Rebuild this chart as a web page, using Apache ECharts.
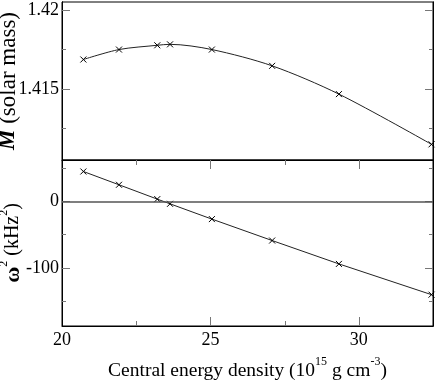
<!DOCTYPE html>
<html>
<head>
<meta charset="utf-8">
<script src="https://cdn.jsdelivr.net/npm/echarts@6/dist/echarts.min.js"></script>
<style>
  html, body { margin: 0; padding: 0; background: #fff; }
  #main { width: 436px; height: 382px; }
</style>
</head>
<body>
<div id="main"></div>
<script>
// central energy density (10^15 g cm^-3)
var density = [20.72, 21.92, 23.21, 23.64, 25.05, 27.08, 29.33, 32.45];
// gravitational mass (solar mass)
var mass = [1.41686, 1.41749, 1.41776, 1.41782, 1.41749, 1.41646, 1.41467, 1.41149];
// squared frequency of the radial mode (kHz^2)
var omega2 = [45.2, 25.2, 3.6, -3.5, -26.5, -58.8, -94.0, -140.3];

var xMajor = [25, 30], xMinor = [22.5, 27.5];
var massMajor = [1.415, 1.42], massMinor = [1.4125, 1.4175];
var omMajor = [-100, 0], omMinor = [-150, -50, 50];

var font = 'Liberation Serif';
var tickColor = '#777';

function pairs(xs, ys) {
  return xs.map(function (x, i) { return [x, ys[i]]; });
}

// y axis carrying a set of inward ticks, optionally labels
function yax(grid, pos, min, max, ticks, len, labels) {
  return {
    type: 'value', gridIndex: grid, position: pos, min: min, max: max,
    axisLine: { show: true, onZero: false, lineStyle: { color: '#000', width: 1 } },
    splitLine: { show: false },
    nameMoveOverlap: false,
    axisTick: {
      show: true, inside: true, length: len, customValues: ticks,
      lineStyle: { color: tickColor, width: 1 }
    },
    axisLabel: {
      show: !!labels, customValues: labels || [], margin: 3,
      fontFamily: font, fontSize: 18, color: '#000'
    }
  };
}

var supStyle = { fontFamily: font, fontSize: 12, verticalAlign: 'top', lineHeight: 10 };

var chart = echarts.init(document.getElementById('main'));

var xAxes = [
  { type: 'value', gridIndex: 0, min: 20, max: 32.5, position: 'bottom',
    axisLine: { onZero: false, lineStyle: { color: '#000' } },
    axisTick: { show: false }, axisLabel: { show: false }, splitLine: { show: false } },
  { type: 'value', gridIndex: 1, min: 20, max: 32.5, interval: 2.5, position: 'bottom',
    axisLine: { onZero: false, lineStyle: { color: '#000' } },
    axisTick: { show: false },
    splitLine: { show: false },
    axisLabel: {
      margin: 5, fontFamily: font, fontSize: 18, color: '#000',
      formatter: function (v) { return (v % 5 === 0 && v < 32.5) ? String(v) : ''; }
    },
    nameMoveOverlap: false,
    name: 'Central energy density (10{sup|15} g cm{sup|-3})',
    nameLocation: 'middle', nameGap: 30,
    nameTextStyle: {
      fontFamily: font, fontSize: 19.5, color: '#000', lineHeight: 30,
      rich: { sup: supStyle }
    }
  }
];

var yAxes = [
  yax(0, 'left', 1.4105, 1.4205, massMajor, 8, massMajor),
  yax(0, 'left', 1.4105, 1.4205, massMinor, 4),
  yax(0, 'right', 1.4105, 1.4205, massMajor, 8),
  yax(0, 'right', 1.4105, 1.4205, massMinor, 4),
  yax(1, 'left', -187.5, 62.5, omMajor, 8, omMajor),
  yax(1, 'left', -187.5, 62.5, omMinor, 4),
  yax(1, 'right', -187.5, 62.5, omMajor, 8),
  yax(1, 'right', -187.5, 62.5, omMinor, 4)
];
yAxes[0].name = '{m|M} (solar mass)';
yAxes[0].nameLocation = 'middle';
yAxes[0].nameGap = 42;
yAxes[0].nameTextStyle = {
  fontFamily: font, fontSize: 23, color: '#000',
  rich: { m: { fontFamily: font, fontSize: 23, fontStyle: 'italic', fontWeight: 'bold' } }
};
yAxes[4].name = '{w|ω}{sup|2} (kHz{sup|2})';
yAxes[4].nameLocation = 'middle';
yAxes[4].nameGap = 34;
yAxes[4].nameTextStyle = {
  fontFamily: font, fontSize: 20, color: '#000', lineHeight: 30,
  rich: {
    w: { fontFamily: font, fontSize: 22, fontWeight: 'bold', lineHeight: 30 },
    sup: supStyle
  }
};

// x ticks of the lower panel, drawn at bottom and top edges through the x scale
var xTickData = xMajor.map(function (v) { return [v, 0, 1]; })
  .concat(xMinor.map(function (v) { return [v, 0, 0]; }));

function renderXTick(params, api) {
  var cs = params.coordSys;
  var x = Math.round(api.coord([api.value(0), 0])[0]) + 0.5;
  var len = api.value(2) ? 9 : 5;
  var style = { stroke: tickColor, lineWidth: 1 };
  return {
    type: 'group',
    children: [
      { type: 'line', shape: { x1: x, y1: cs.y + cs.height, x2: x, y2: cs.y + cs.height - len }, style: style },
      { type: 'line', shape: { x1: x, y1: cs.y, x2: x, y2: cs.y + len }, style: style }
    ]
  };
}

var cross = 'path://M0,0L10,10M10,0L0,10';
var markStyle = { color: '#000', borderColor: '#000', borderWidth: 1 };

chart.setOption({
  animation: false,
  grid: [
    { left: 62, top: 2, width: 371, height: 158, show: true, borderColor: '#000', borderWidth: 1,
      containLabel: false, outerBoundsMode: 'none' },
    { left: 62, top: 160, width: 371, height: 166, show: true, borderColor: '#000', borderWidth: 1,
      containLabel: false, outerBoundsMode: 'none' }
  ],
  xAxis: xAxes,
  yAxis: yAxes,
  series: [
    {
      type: 'line', xAxisIndex: 0, yAxisIndex: 0,
      data: pairs(density, mass),
      smooth: 0.3,
      symbol: cross, symbolSize: 6, itemStyle: markStyle,
      lineStyle: { color: '#222', width: 1 }
    },
    {
      type: 'line', xAxisIndex: 1, yAxisIndex: 4,
      data: pairs(density, omega2),
      symbol: cross, symbolSize: 6, itemStyle: markStyle,
      lineStyle: { color: '#222', width: 1 },
      markLine: {
        silent: true, symbol: 'none', label: { show: false },
        lineStyle: { color: '#555', width: 1.5, type: 'solid' },
        data: [{ yAxis: 0 }]
      }
    },
    {
      type: 'custom', xAxisIndex: 1, yAxisIndex: 4,
      silent: true, clip: false, z: 1,
      encode: { x: 0, y: 1 },
      data: xTickData,
      renderItem: renderXTick
    }
  ]
});
</script>
</body>
</html>
